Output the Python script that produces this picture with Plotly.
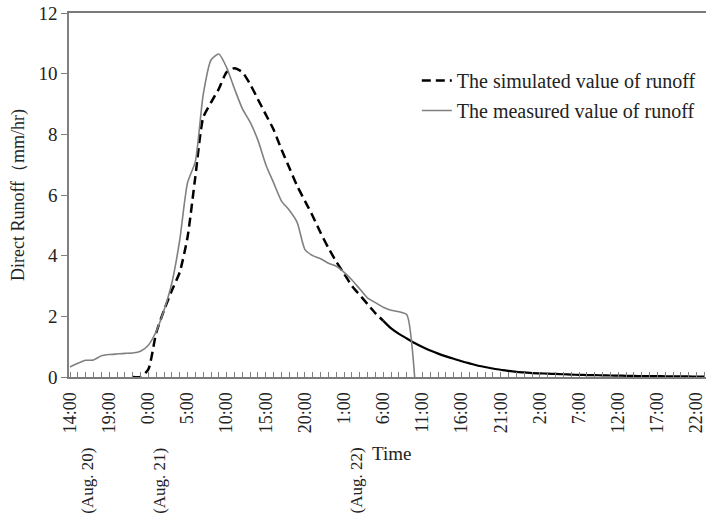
import plotly.graph_objects as go

# Hours elapsed since 14:00 on Aug. 20
measured_hours = list(range(0, 45))
measured_runoff = [
    0.33, 0.45, 0.55, 0.56, 0.70, 0.74, 0.76, 0.78, 0.79, 0.85,
    1.05, 1.50, 2.20, 3.10, 4.50, 6.40, 7.10, 9.30, 10.45, 10.65,
    10.20, 9.50, 8.85, 8.40, 7.80, 7.00, 6.40, 5.80, 5.50, 5.10,
    4.20, 4.00, 3.90, 3.75, 3.65, 3.45, 3.20, 2.90, 2.60, 2.45,
    2.30, 2.20, 2.15, 2.05, 0.00,
]

simulated_hours = list(range(8, 82))
simulated_runoff = [
    0.00, 0.00, 0.25, 1.45, 2.20, 2.85, 3.45, 4.60, 6.60, 8.55,
    9.05, 9.50, 10.05, 10.18, 10.05, 9.65, 9.15, 8.65, 8.15, 7.50,
    6.90, 6.30, 5.80, 5.30, 4.75, 4.25, 3.80, 3.40, 3.00, 2.70,
    2.40, 2.10, 1.85, 1.60, 1.42, 1.27, 1.12, 0.99, 0.87, 0.77,
    0.68, 0.60, 0.52, 0.45, 0.38, 0.33, 0.28, 0.24, 0.20, 0.17,
    0.15, 0.13, 0.12, 0.11, 0.10, 0.09, 0.08, 0.07, 0.065, 0.06,
    0.055, 0.05, 0.045, 0.04, 0.035, 0.032, 0.03, 0.028, 0.025, 0.022,
    0.02, 0.018, 0.016, 0.015,
]

tick_hours = list(range(0, 81, 5))
tick_labels = [
    "14:00", "19:00", "0:00", "5:00", "10:00", "15:00", "20:00", "1:00",
    "6:00", "11:00", "16:00", "21:00", "2:00", "7:00", "12:00", "17:00", "22:00",
]

date_labels = ["(Aug. 20)", "(Aug. 21)", "(Aug. 22)"]
date_label_hours = [2.3, 11.5, 36.6]

FONT = "Liberation Serif, Times New Roman, serif"

# the dense tail of the simulated curve renders as a continuous stroke
split = simulated_hours.index(40)

fig = go.Figure()
fig.add_trace(go.Scatter(
    x=simulated_hours[:split + 1], y=simulated_runoff[:split + 1],
    mode="lines", name="The simulated value of runoff",
    line=dict(color="black", width=2.5, dash="9px,5px", shape="spline", smoothing=0.6),
    legendgroup="sim",
))
fig.add_trace(go.Scatter(
    x=simulated_hours[split:], y=simulated_runoff[split:],
    mode="lines", showlegend=False,
    line=dict(color="black", width=2.2, shape="spline", smoothing=0.6),
    legendgroup="sim",
))
fig.add_trace(go.Scatter(
    x=measured_hours, y=measured_runoff,
    mode="lines", name="The measured value of runoff",
    line=dict(color="#808080", width=1.6, shape="spline", smoothing=0.6),
    legendgroup="meas",
))

for lbl, h in zip(date_labels, date_label_hours):
    fig.add_annotation(
        x=h, xref="x", y=-0.285, yref="paper", text=lbl, showarrow=False,
        xanchor="center", yanchor="middle",
        textangle=-90, font=dict(family=FONT, size=17, color="#222"),
    )

fig.add_annotation(
    x=0.507, xref="paper", y=-0.209, yref="paper", text="Time", showarrow=False,
    xanchor="center", yanchor="middle",
    font=dict(family=FONT, size=19, color="#222"),
)

fig.update_layout(
    width=706, height=520,
    margin=dict(l=69, r=0, t=13, b=143),
    paper_bgcolor="white", plot_bgcolor="white",
    font=dict(family=FONT, size=18, color="#222"),
    showlegend=True,
    legend=dict(
        x=0.546, y=0.868, xanchor="left", yanchor="top",
        bgcolor="rgba(0,0,0,0)", font=dict(family=FONT, size=20, color="#222"),
        tracegroupgap=1,
    ),
    xaxis=dict(
        range=[-0.13, 81.2],
        tickmode="array", tickvals=tick_hours, ticktext=tick_labels,
        tickangle=-90, ticks="inside", ticklen=5, tickcolor="#808080",
        minor=dict(dtick=1, tick0=0, ticks="inside", ticklen=5, tickcolor="#808080"),
        showline=True, linecolor="#7a7a7a", linewidth=2, mirror=True,
        showgrid=False, zeroline=False,
        ticklabeloverflow="allow", ticklabelstandoff=6,
        tickfont=dict(family=FONT, size=18, color="#222"),
    ),
    yaxis=dict(
        range=[0, 12], dtick=2, tick0=0,
        ticks="outside", ticklen=6, tickcolor="#808080",
        showline=True, linecolor="#808080", linewidth=1.5,
        showgrid=False, zeroline=False,
        title=dict(text="Direct Runoff（mm/hr)", font=dict(family=FONT, size=18, color="#222"), standoff=9),
        tickfont=dict(family=FONT, size=19, color="#222"),
    ),
)

fig.write_html("out.html")
